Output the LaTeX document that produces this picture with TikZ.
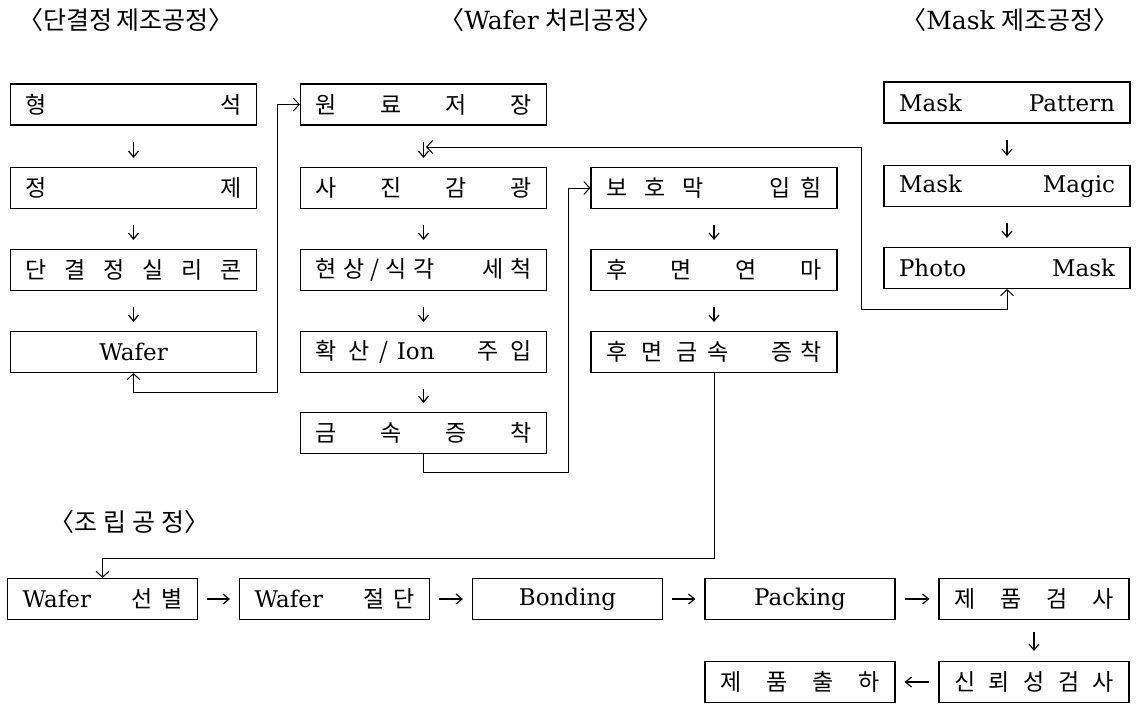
\documentclass[tikz,border=0pt]{standalone}
\usepackage{fontspec}
\setmainfont{Noto Sans CJK KR}
\newfontfamily\lat{DejaVu Serif}
\usetikzlibrary{arrows.meta}
\newcommand{\gp}[1]{\hspace{#1pt}}
\begin{document}
\begin{tikzpicture}[x=1pt,y=-1pt,
  box/.style={draw, line width=1.1pt, minimum height=41pt, inner sep=0pt,
    font=\fontsize{23}{26}\selectfont},
  wbox/.style={box, minimum width=246pt, text width=216pt, align=left},
  cbox/.style={box, minimum width=246pt, text width=216pt, align=center},
  sbox/.style={box, minimum width=190pt, text width=160pt, align=left},
  scbox/.style={box, minimum width=190pt, text width=160pt, align=center},
  head/.style={inner sep=0pt, font=\fontsize{25}{28}\selectfont},
  garr/.style={line width=1.2pt, -{Straight Barb[length=6pt,width=10pt]},
    shorten <=16pt, shorten >=9pt},
  harr/.style={line width=1.2pt, -{Straight Barb[length=6pt,width=10pt]},
    shorten <=9pt, shorten >=9pt},
  conn/.style={line width=1pt},
  tip/.tip={Straight Barb[length=6pt,width=13pt]}
]
\useasboundingbox (0,0) rectangle (1139,704);

% headers
\node[head] (t1) at (126,20) {〈단결정\gp{4}제조공정〉};
\node[head] (t2) at (551,20) {〈{\lat Wafer}\gp{7}처리공정〉};
\node[head] (t3) at (1010,20) {〈{\lat Mask}\gp{7}제조공정〉};
\node[head] (t4) at (129,522) {〈조\gp{6}립\gp{6}공\gp{6}정〉};

% column 1
\node[wbox] (h1) at (133.5,104.5) {형\hfill 석};
\node[wbox] (h2) at (133.5,188) {정\hfill 제};
\node[wbox] (h3) at (133.5,270) {단\hfill 결\hfill 정\hfill 실\hfill 리\hfill 콘};
\node[cbox] (h4) at (133.5,352) {\lat Wafer};

% column 2
\node[wbox] (w1) at (423.5,104.5) {원\hfill 료\hfill 저\hfill 장};
\node[wbox] (w2) at (423.5,188) {사\hfill 진\hfill 감\hfill 광};
\node[wbox] (w3) at (423.5,270) {현\gp{7}상\gp{6}/\gp{6}식\gp{7}각\hfill 세\gp{7}척};
\node[wbox] (w4) at (423.5,352) {확\gp{12}산\gp{10}/\gp{8}{\lat Ion}\hfill 주\gp{12}입};
\node[wbox] (w5) at (423.5,433) {금\hfill 속\hfill 증\hfill 착};

% column 3
\node[wbox] (b1) at (714,188) {보\gp{17}호\gp{17}막\hfill 입\gp{10}힘};
\node[wbox] (b2) at (714,270) {후\hfill 면\hfill 연\hfill 마};
\node[wbox] (b3) at (714,352) {후\gp{14}면\gp{14}금\gp{10}속\hfill 증\gp{8}착};

% column 4
\node[wbox] (m1) at (1007,102.5) {\lat Mask\hfill Pattern};
\node[wbox] (m2) at (1007,186) {\lat Mask\hfill Magic};
\node[wbox] (m3) at (1007,268) {\lat Photo\hfill Mask};

% bottom rows
\node[sbox] (a1) at (102.5,599) {{\lat Wafer}\hfill 선\gp{9}별};
\node[sbox] (a2) at (334.5,599) {{\lat Wafer}\hfill 절\gp{9}단};
\node[scbox] (a3) at (567.5,599) {\lat Bonding};
\node[scbox] (a4) at (800,599) {\lat Packing};
\node[sbox] (a5) at (1034,599) {제\hfill 품\hfill 검\hfill 사};
\node[sbox] (a6) at (1034,682) {신\hfill 뢰\hfill 성\hfill 검\hfill 사};
\node[sbox] (a7) at (800,682) {제\hfill 품\hfill 출\hfill 하};

% short arrows
\draw[garr] (h1) -- (h2);
\draw[garr] (h2) -- (h3);
\draw[garr] (h3) -- (h4);
\draw[garr] (w1) -- (w2);
\draw[garr] (w2) -- (w3);
\draw[garr] (w3) -- (w4);
\draw[garr] (w4) -- (w5);
\draw[garr] (b1) -- (b2);
\draw[garr] (b2) -- (b3);
\draw[garr] (m1) -- (m2);
\draw[garr] (m2) -- (m3);
\draw[harr] (a1) -- (a2);
\draw[harr] (a2) -- (a3);
\draw[harr] (a3) -- (a4);
\draw[harr] (a4) -- (a5);
\draw[garr, shorten <=12pt, shorten >=10pt] (a5) -- (a6);
\draw[harr] (a6) -- (a7);

% long connectors
\coordinate (cA) at (277,392);
\draw[conn, tip-tip] (h4.south) |- (cA) |- (w1.west);

\coordinate (cB) at (861,309);
\coordinate (cBe) at (426,147);
\draw[conn, tip-tip] (m3.south) |- (cB) |- (cBe);

\coordinate (cC) at (568,472);
\draw[conn, -tip] (w5.south) |- (cC) |- (b1.west);

\coordinate (cD) at (102.5,558);
\draw[conn, -tip] (b3.south) |- (cD) -- (a1.north);
\end{tikzpicture}
\end{document}
